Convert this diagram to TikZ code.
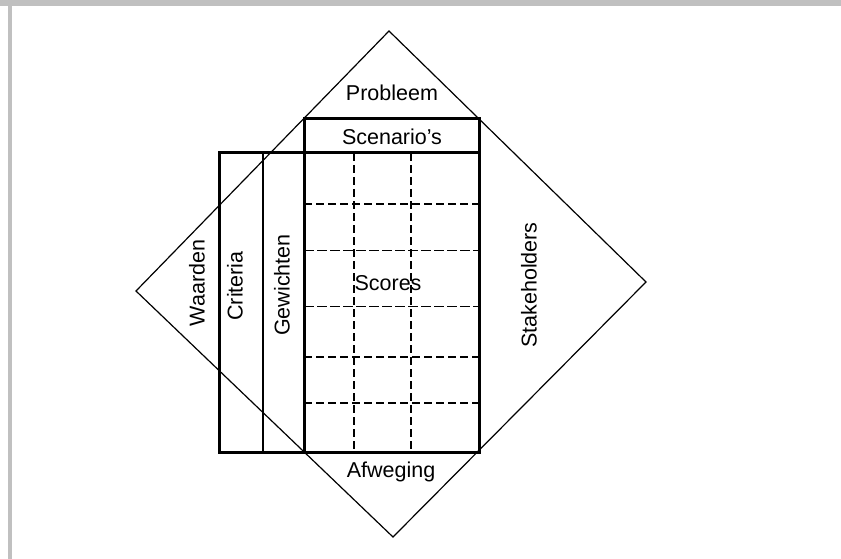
\documentclass[tikz,border=0pt]{standalone}
\usepackage{fontspec}
\setmainfont{Liberation Sans}
\definecolor{FrameGray}{HTML}{C0C0C0}
\begin{document}
\begin{tikzpicture}[x=1pt, y=-1pt,
        lbl/.style={font=\fontsize{21.5}{24}\selectfont, inner sep=0pt},
        vlbl/.style={lbl, rotate=90},
        diag/.style={line width=1.2pt, line join=miter},
        frame/.style={line width=3pt},
        divider/.style={line width=1.5pt},
        gridmajor/.style={line width=2.4pt, dash pattern=on 8pt off 4pt},
        gridminor/.style={line width=1pt, dash pattern=on 10pt off 3pt}
    ]
        \useasboundingbox (0,0) rectangle (841,559);
        \fill[FrameGray] (0,0) rectangle (841,6);
        \fill[FrameGray] (8,0) rectangle (12,559);
        % diamond
        \coordinate (dtop) at (389,31);
        \coordinate (dright) at (646,282);
        \coordinate (dbottom) at (393,537);
        \coordinate (dleft) at (136,291);
        \draw[diag] (dtop) -- (dright) -- (dbottom) -- (dleft) -- cycle;
        % matrix of scores
        \foreach \y in {204, 357, 403} \draw[gridmajor] (304,\y) -- (479,\y);
        \foreach \y in {250, 306} \draw[gridminor] (304,\y) -- (479,\y);
        \foreach \x in {354, 411} \draw[gridmajor] (\x,153) -- (\x,452);
        \draw[divider] (263,153) -- (263,452);
        \draw[frame] (304,119) rectangle (479,452);
        \draw[frame] (219,153) rectangle (479,452);
        \draw[frame] (304,153) -- (304,452);
        % labels
        \node[lbl]  (probleem)  at (392,93)  {Probleem};
        \node[lbl]  (scenarios) at (392,137) {Scenario’s};
        \node[lbl]  (scores)    at (388,283) {Scores};
        \node[lbl]  (afweging)  at (391,472) {Afweging};
        \node[vlbl] (waarden)   at (197,283) {Waarden};
        \node[vlbl] (criteria)  at (235,286) {Criteria};
        \node[vlbl] (gewichten) at (282,285) {Gewichten};
        \node[vlbl] (stake)     at (529,285) {Stakeholders};
    \end{tikzpicture}
\end{document}
